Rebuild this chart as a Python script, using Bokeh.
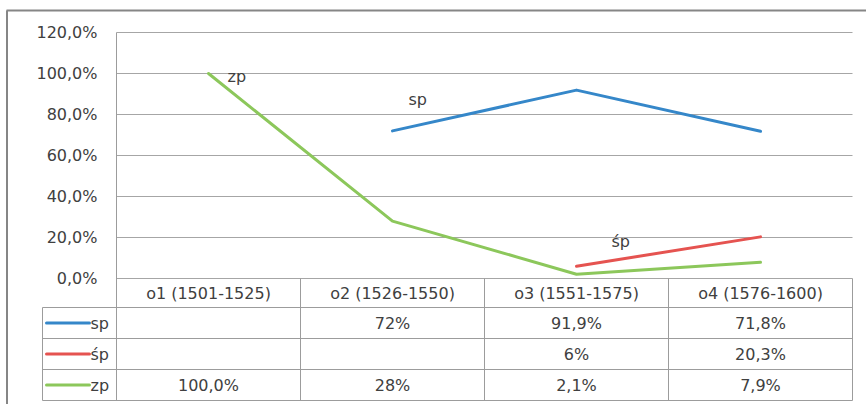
import math
from bokeh.plotting import figure
from bokeh.embed import file_html
from bokeh.resources import INLINE
from bokeh.core.properties import value

# ---------------- data ----------------
categories = ["o1 (1501-1525)", "o2 (1526-1550)", "o3 (1551-1575)", "o4 (1576-1600)"]
series_names = ["sp", "śp", "zp"]
sp_values = [math.nan, 72.0, 91.9, 71.8]
ssp_values = [math.nan, math.nan, 6.0, 20.3]
zp_values = [100.0, 28.0, 2.1, 7.9]
sp_table = ["", "72%", "91,9%", "71,8%"]
ssp_table = ["", "", "6%", "20,3%"]
zp_table = ["100,0%", "28%", "2,1%", "7,9%"]
y_ticks = [0, 20, 40, 60, 80, 100, 120]
y_tick_labels = ["0,0%", "20,0%", "40,0%", "60,0%", "80,0%", "100,0%", "120,0%"]

# ---------------- style ----------------
BLUE = "#3587c9"
RED = "#e55350"
GREEN = "#8cc75b"
TEXT = "#404040"
GRID = "#a6a6a6"
TABLE = "#9c9c9c"
FONT = value("DejaVu Sans")
FS = "16px"

W, H = 866, 404
ORIGIN = 0  # figure sits at the top-left corner of the page
PLOT_LEFT = 116
CAT_W = 184
ZERO_Y = 278
PX_PER_PCT = 2.05


def dx(page_x):
    return 0.5 + (page_x - PLOT_LEFT) / CAT_W


def dy(page_y):
    return (ZERO_Y - page_y) / PX_PER_PCT


x_start = dx(ORIGIN)
x_end = dx(ORIGIN + W)
y_start = dy(ORIGIN + H)
y_end = dy(ORIGIN)

p = figure(width=W, height=H, x_range=(x_start, x_end), y_range=(y_start, y_end),
           min_border=0, toolbar_location=None, output_backend="svg",
           x_axis_location=None, y_axis_location=None)
p.grid.visible = False
p.outline_line_color = None
p.background_fill_color = "white"
p.border_fill_color = "white"

n = len(categories)
xs = [i + 1 for i in range(n)]
x_left_plot = 0.5
x_right_plot = n + 0.5

# outer chart border (top and left)
p.segment(x0=[dx(6)], x1=[dx(W)], y0=[dy(10)], y1=[dy(10)], line_color="#868686", line_width=2)
p.segment(x0=[dx(6.5)], x1=[dx(6.5)], y0=[dy(10)], y1=[dy(H)], line_color="#868686", line_width=2)

# table geometry
header_bottom = dy(307)
row_h = (307 - 400) / 3 / PX_PER_PCT  # data height per row (negative)
row_edges = [header_bottom + k * row_h for k in range(4)]
row_centers = [header_bottom + (k + 0.5) * row_h for k in range(3)]
header_center = (0 + header_bottom) / 2
table_bottom = row_edges[-1]
legend_left = dx(42)

# gridlines
p.segment(x0=[x_left_plot] * len(y_ticks), x1=[x_right_plot] * len(y_ticks),
          y0=y_ticks, y1=y_ticks, line_color=GRID, line_width=1)

# plot-area left border extending through the table
p.segment(x0=[x_left_plot], x1=[x_left_plot], y0=[y_ticks[-1]], y1=[table_bottom],
          line_color=TABLE, line_width=1)

# table verticals
vx = [k + 1.5 for k in range(n)]
p.segment(x0=vx, x1=vx, y0=[0] * n, y1=[table_bottom] * n, line_color=TABLE, line_width=1)
p.segment(x0=[legend_left], x1=[legend_left], y0=[header_bottom], y1=[table_bottom],
          line_color=TABLE, line_width=1)
# table horizontals
p.segment(x0=[legend_left] * 4, x1=[x_right_plot] * 4, y0=row_edges, y1=row_edges,
          line_color=TABLE, line_width=1)

# series lines
colors = [BLUE, RED, GREEN]
series_values = [sp_values, ssp_values, zp_values]
for vals, c in zip(series_values, colors):
    p.line(x=xs, y=vals, line_color=c, line_width=3, line_cap="round", line_join="round")

# series labels near lines
p.text(x=[xs[0]], y=[zp_values[0]], text=[series_names[2]], x_offset=19, y_offset=3,
       text_font=FONT, text_font_size=FS, text_color=TEXT, text_baseline="alphabetic")
p.text(x=[xs[1]], y=[sp_values[1]], text=[series_names[0]], x_offset=16, y_offset=-31,
       text_font=FONT, text_font_size=FS, text_color=TEXT, text_baseline="alphabetic")
p.text(x=[xs[2]], y=[ssp_values[2]], text=[series_names[1]], x_offset=35, y_offset=-25,
       text_font=FONT, text_font_size=FS, text_color=TEXT, text_baseline="alphabetic")

# y tick labels
p.text(x=[dx(97)] * len(y_ticks), y=y_ticks, text=y_tick_labels, text_align="right",
       text_baseline="middle", text_font=FONT, text_font_size=FS, text_color=TEXT)

# header row
p.text(x=xs, y=[header_center] * n, text=categories, text_align="center",
       text_baseline="middle", text_font=FONT, text_font_size=FS, text_color=TEXT)

# table rows
tables = [sp_table, ssp_table, zp_table]
for rc, row, name, c in zip(row_centers, tables, series_names, colors):
    p.text(x=xs, y=[rc] * n, text=row, text_align="center", text_baseline="middle",
           text_font=FONT, text_font_size=FS, text_color=TEXT)
    p.segment(x0=[dx(46)], x1=[dx(89)], y0=[rc], y1=[rc], line_color=c, line_width=3,
              line_cap="round")
    p.text(x=[dx(90)], y=[rc], text=[name], text_align="left", text_baseline="middle",
           text_font=FONT, text_font_size=FS, text_color=TEXT)

open("out.html", "w").write(file_html(p, INLINE))
